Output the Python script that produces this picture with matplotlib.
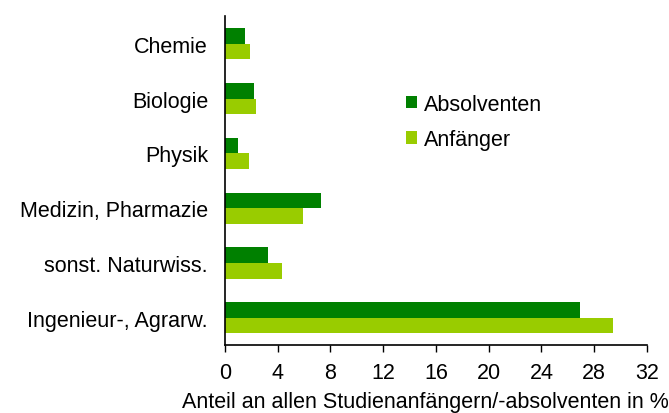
import matplotlib
matplotlib.use("Agg")
import matplotlib.pyplot as plt
import numpy as np

plt.rcParams["font.family"] = ["Liberation Sans", "DejaVu Sans"]

categories = ["Chemie", "Biologie", "Physik", "Medizin, Pharmazie",
              "sonst. Naturwiss.", "Ingenieur-, Agrarw."]
absolventen = [1.5, 2.2, 1.0, 7.3, 3.3, 26.9]
anfaenger = [1.9, 2.4, 1.8, 5.9, 4.3, 29.4]
xticks = [0, 4, 8, 12, 16, 20, 24, 28, 32]

c_abs = "#008000"
c_anf = "#99cc00"
fs = 15.5

fig = plt.figure(figsize=(6.69, 4.14), dpi=100)
ax = fig.add_axes([0.336, 0.164, 0.631, 0.794])

y = np.arange(len(categories))
h = 0.285
ax.barh(y - h / 2, absolventen, height=h, color=c_abs, label="Absolventen")
ax.barh(y + h / 2, anfaenger, height=h, color=c_anf, label="Anfänger")

ax.set_ylim(len(categories) - 0.5, -0.5)
ax.set_xlim(0, 32)
ax.set_yticks(y)
ax.set_yticklabels(categories, fontsize=fs)
ax.set_xticks(xticks)
ax.set_xticklabels([str(t) for t in xticks], fontsize=fs)
ax.tick_params(axis="y", length=0, pad=12)
ax.tick_params(axis="x", length=5, width=1, direction="out", pad=7)
for s in ("top", "right"):
    ax.spines[s].set_visible(False)
for s in ("left", "bottom"):
    ax.spines[s].set_color("black")
    ax.spines[s].set_linewidth(1.2)
ax.set_xlabel("Anteil an allen Studienanfängern/-absolventen in %", fontsize=fs)
ax.xaxis.set_label_coords(0.474, -0.14)

ax.legend(loc="upper left", bbox_to_anchor=(0.43, 0.765), frameon=False, fontsize=fs,
          handlelength=0.5, handleheight=0.5, handletextpad=0.3, labelspacing=0.68,
          borderpad=0, borderaxespad=0)

fig.savefig("out.png", dpi=100)
